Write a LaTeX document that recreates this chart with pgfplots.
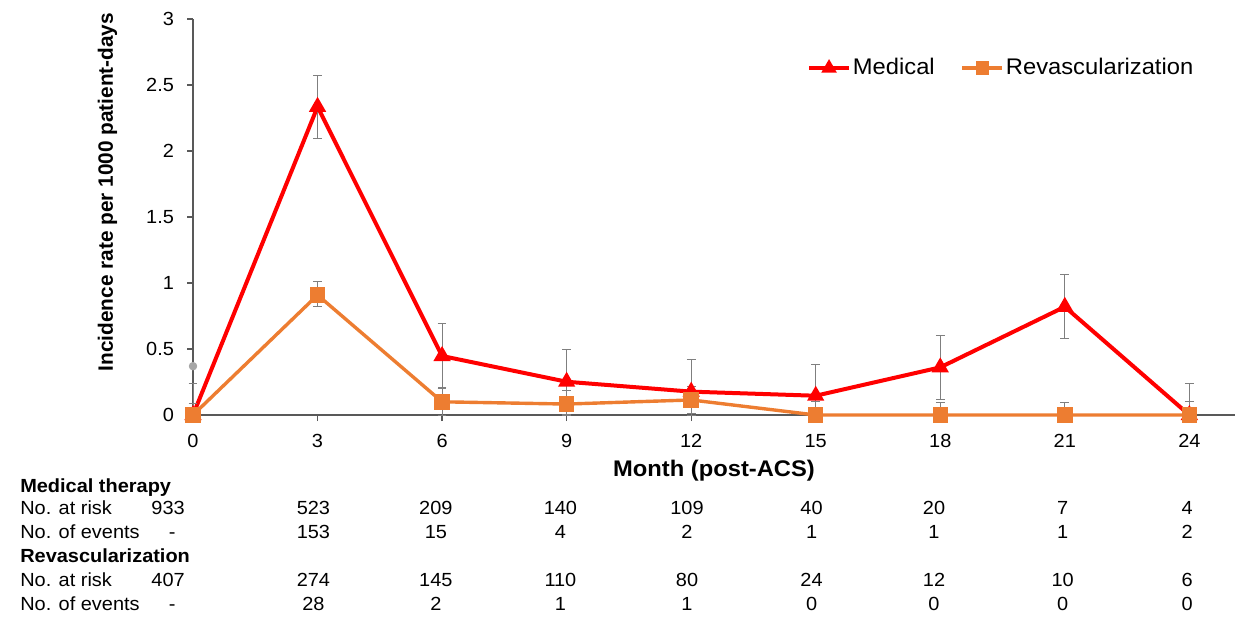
\documentclass[border=0pt]{standalone}
\usepackage{pgfplots}
\pgfplotsset{compat=1.18}
\usepackage{pgfplotstable}
\usepackage{fontspec}
\setmainfont{Liberation Sans}[FakeStretch=1.05]
\newfontfamily\plainsans{Liberation Sans}
\definecolor{medred}{HTML}{FF0000}
\definecolor{revorange}{HTML}{ED7D31}
\definecolor{errgray}{HTML}{7F7F7F}
\definecolor{axgray}{HTML}{595959}
\definecolor{dotgray}{HTML}{A6A6A6}
\newcommand\tabfont{\fontsize{9.5}{11}\selectfont}

\pgfplotstableread{
x y ep em
0 0 0.24 0
3 2.335 0.24 0.24
6 0.447 0.245 0.24
9 0.252 0.245 0.245
12 0.177 0.245 0.177
15 0.146 0.24 0.146
18 0.361 0.245 0.24
21 0.82 0.245 0.242
24 0 0.24 0
}\medtab

\pgfplotstableread{
x y ep em
0 0 0.09 0
3 0.909 0.1 0.09
6 0.10 0.1 0.1
9 0.083 0.1 0.083
12 0.114 0.1 0.1
15 0 0.1 0
18 0 0.096 0
21 0 0.096 0
24 0 0.1 0
}\revtab

\tikzset{tabnode/.style={font=\tabfont, inner sep=0pt, text height=6.8pt, text depth=0pt}}
\newcommand{\tc}[3]{\node[tabnode, anchor=center] at (axis cs:#1,#2) {#3};}
\newcommand{\tl}[2]{\node[tabnode, anchor=west] at (axis cs:-4.17,#1) {#2};}

\begin{document}
\begin{tikzpicture}
\path[use as bounding box] (0,0) rectangle (620pt,308.5pt);
\begin{axis}[
  at={(96.5pt,101pt)}, anchor=south west,
  scale only axis, width=521pt, height=198pt,
  xmin=0, xmax=25.1, ymin=0, ymax=3,
  clip=false,
  axis lines=left,
  axis line style={-, axgray, line width=0.6pt},
  tick style={axgray, line width=0.6pt},
  tick align=outside,
  major tick length=3pt,
  xtick={0,3,...,24},
  ytick={0,0.5,...,3},
  /pgf/number format/assume math mode=true,
  tick label style={font=\fontsize{9.5}{11}\selectfont, text=black},
  xticklabel style={yshift=-3pt},
  yticklabel style={xshift=-3pt},
  xlabel={\textbf{Month (post-ACS)}},
  xlabel style={font=\fontsize{11.3}{13}\selectfont, at={(axis description cs:0.5,-0.141)}, anchor=center},
  ylabel={\textbf{Incidence rate per 1000 patient-days}},
  ylabel style={font=\plainsans\fontsize{10.4}{12}\selectfont, at={(axis description cs:-0.082,0.563)}, anchor=center, rotate=0},
  legend style={draw=none, fill=none, legend columns=2,
    at={(axis description cs:0.968,0.876)}, anchor=east,
    font=\fontsize{11.3}{13}\selectfont,
    nodes={inner xsep=1pt},
    /tikz/every even column/.append style={column sep=12pt}},
  legend cell align=left,
  legend image code/.code={\draw[mark repeat=2,mark phase=2, mark size=2.5pt] plot coordinates {(0cm,0cm)(0.35cm,0cm)(0.7cm,0cm)};},
]
\addplot[medred, line width=2pt, mark=triangle*, mark size=3pt, mark options={solid},
  error bars/.cd, y dir=both, y explicit,
  error bar style={errgray, line width=0.5pt},
  error mark options={errgray, line width=0.5pt, mark size=2.2pt, rotate=90}]
  table[x=x, y=y, y error plus=ep, y error minus=em] {\medtab};
\addlegendentry{Medical}
\addplot[revorange, line width=1.7pt, mark=square*, mark size=3pt, mark options={solid},
  error bars/.cd, y dir=both, y explicit,
  error bar style={errgray, line width=0.5pt},
  error mark options={errgray, line width=0.5pt, mark size=2.2pt, rotate=90}]
  table[x=x, y=y, y error plus=ep, y error minus=em] {\revtab};
\addlegendentry{Revascularization}
\addplot[only marks, mark=*, mark size=1.9pt, dotgray, forget plot] coordinates {(0,0.37)};

\node[tabnode, font=\tabfont\bfseries, anchor=west] at (axis cs:-4.17,-0.538) {Medical therapy};
\tl{-0.705}{No. at risk}
\tl{-0.886}{No. of events}
\node[tabnode, font=\tabfont\bfseries, anchor=west] at (axis cs:-4.17,-1.068) {Revascularization};
\tl{-1.25}{No. at risk}
\tl{-1.432}{No. of events}

\tc{-0.6}{-0.705}{933}
\tc{2.9}{-0.705}{523}
\tc{5.85}{-0.705}{209}
\tc{8.85}{-0.705}{140}
\tc{11.9}{-0.705}{109}
\tc{14.9}{-0.705}{40}
\tc{17.85}{-0.705}{20}
\tc{20.95}{-0.705}{7}
\tc{23.95}{-0.705}{4}

\tc{-0.5}{-0.886}{-}
\tc{2.9}{-0.886}{153}
\tc{5.85}{-0.886}{15}
\tc{8.85}{-0.886}{4}
\tc{11.9}{-0.886}{2}
\tc{14.9}{-0.886}{1}
\tc{17.85}{-0.886}{1}
\tc{20.95}{-0.886}{1}
\tc{23.95}{-0.886}{2}

\tc{-0.6}{-1.25}{407}
\tc{2.9}{-1.25}{274}
\tc{5.85}{-1.25}{145}
\tc{8.85}{-1.25}{110}
\tc{11.9}{-1.25}{80}
\tc{14.9}{-1.25}{24}
\tc{17.85}{-1.25}{12}
\tc{20.95}{-1.25}{10}
\tc{23.95}{-1.25}{6}

\tc{-0.5}{-1.432}{-}
\tc{2.9}{-1.432}{28}
\tc{5.85}{-1.432}{2}
\tc{8.85}{-1.432}{1}
\tc{11.9}{-1.432}{1}
\tc{14.9}{-1.432}{0}
\tc{17.85}{-1.432}{0}
\tc{20.95}{-1.432}{0}
\tc{23.95}{-1.432}{0}
\end{axis}
\end{tikzpicture}
\end{document}
